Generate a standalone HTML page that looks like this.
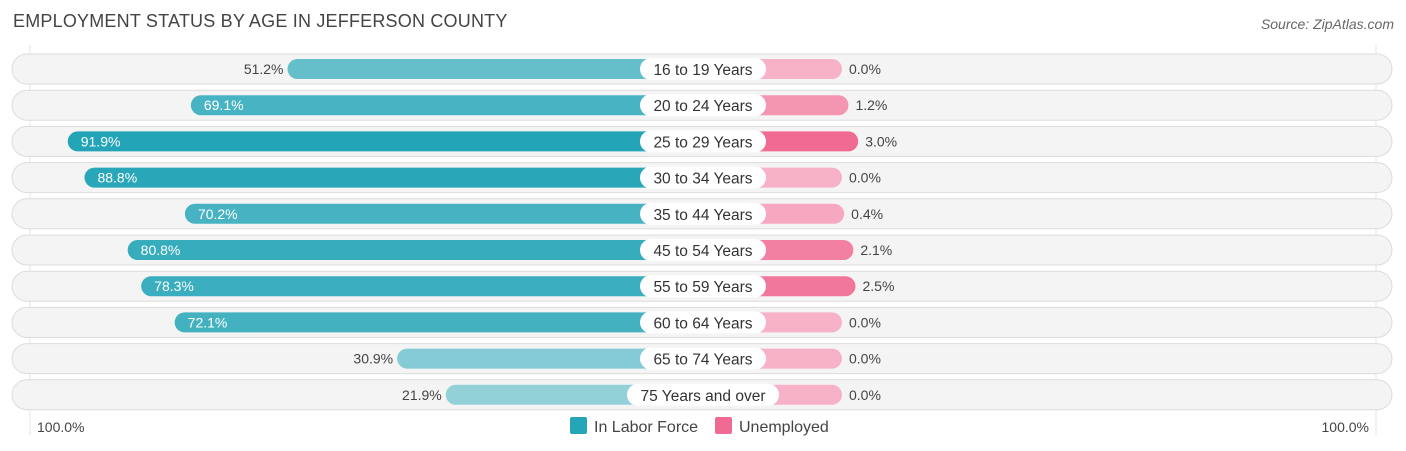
<!DOCTYPE html>
<html><head><meta charset="utf-8"><style>
body{margin:0;width:1406px;height:451px;background:#fff;font-family:"Liberation Sans",sans-serif;overflow:hidden;position:relative}
#title{position:absolute;left:13px;top:11px;font-size:18px;color:#444;letter-spacing:0.2px}
#src{position:absolute;right:12px;top:16px;font-size:14px;color:#666;font-style:italic}
</style></head><body>
<div id="title">EMPLOYMENT STATUS BY AGE IN JEFFERSON COUNTY</div>
<div id="src">Source: ZipAtlas.com</div>
<svg id="chart" width="1406" height="451" style="position:absolute;left:0;top:0"></svg>
<script>
const categories=["16 to 19 Years","20 to 24 Years","25 to 29 Years","30 to 34 Years","35 to 44 Years","45 to 54 Years","55 to 59 Years","60 to 64 Years","65 to 74 Years","75 Years and over"];
const laborForce=[51.2,69.1,91.9,88.8,70.2,80.8,78.3,72.1,30.9,21.9];
const unemployed=[0.0,1.2,3.0,0.0,0.4,2.1,2.5,0.0,0.0,0.0];
const NS="http://www.w3.org/2000/svg";
const svg=document.getElementById('chart');
const cx=703,base=139,k=5.4,y0=69,dy=36.2;
function xLen(v){return base+k*v;}
function yRow(i){return y0+i*dy;}
function mk(t,a,p){const e=document.createElementNS(NS,t);for(const n in a)e.setAttribute(n,a[n]);(p||svg).appendChild(e);return e;}
function mix(c1,c2,t){return 'rgb('+c1.map((c,i)=>Math.round(c+(c2[i]-c)*t)).join(',')+')';}
[30,1376].forEach(x=>{const l=mk('line',{x1:x,x2:x,y1:45,y2:435,stroke:'#e4e4e4','stroke-width':1});

});
categories.forEach((c,i)=>{
 const y=yRow(i);
 const bg=mk('rect',{x:12,y:y-15,width:1380,height:30,rx:15,fill:'#f4f4f4',stroke:'#dcdcdc','stroke-width':1});
 
 
 const lv=laborForce[i],lw=xLen(lv);
 const lb=mk('rect',{x:cx-lw,y:y-10,width:lw,height:20,rx:10,fill:mix([150,210,218],[36,165,183],Math.min(1,Math.max(0,(lv-20)/72)))});
 
 
 const uv=unemployed[i],uw=xLen(uv);
 const ub=mk('rect',{x:cx,y:y-10,width:uw,height:20,rx:10,fill:mix([247,178,200],[240,106,146],Math.min(1,uv/3))});
 
 
 const inside=lv>60;
 const lt=mk('text',{x:inside?cx-lw+13:cx-lw-4,y:y+5,'font-size':14,fill:inside?'#fff':'#444','text-anchor':inside?'start':'end'});
 lt.textContent=lv.toFixed(1)+'%';
 
 
 const ut=mk('text',{x:cx+uw+7,y:y+5,'font-size':14,fill:'#444'});
 ut.textContent=uv.toFixed(1)+'%';
 
 
 const w=c.length>14?152:126;
 const pill=mk('rect',{x:cx-w/2,y:y-11,width:w,height:22,rx:11,fill:'#fff'});
 
 
 const ct=mk('text',{x:cx,y:y+6,'font-size':15.5,fill:'#333','text-anchor':'middle'});
 ct.textContent=c;
 
 
});
const a1=mk('text',{x:37,y:432,'font-size':14,fill:'#444'});a1.textContent='100.0%';


const a2=mk('text',{x:1369,y:432,'font-size':14,fill:'#444','text-anchor':'end'});a2.textContent='100.0%';


const g1=mk('rect',{x:570,y:417,width:17,height:17,rx:2,fill:'#24a6b8'});


const t1=mk('text',{x:594,y:432,'font-size':16,fill:'#444'});t1.textContent='In Labor Force';


const g2=mk('rect',{x:715,y:417,width:17,height:17,rx:2,fill:'#f06a93'});


const t2=mk('text',{x:739,y:432,'font-size':16,fill:'#444'});t2.textContent='Unemployed';


</script>
</body></html>
